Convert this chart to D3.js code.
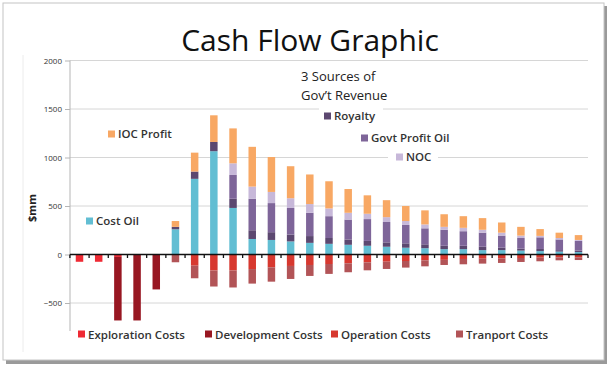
<!DOCTYPE html>
<html>
<head>
<meta charset="utf-8">
<script src="https://cdn.jsdelivr.net/npm/d3@7"></script>
<style>
  body { margin: 0; background: #fff; }
  svg text { font-family: "Open Sans", "Noto Sans", sans-serif; }
</style>
</head>
<body>
<svg id="chart" width="610" height="371"></svg>
<script>
// ---- data ($mm per year) ----
var years = d3.range(1, 28);
var costOil    = [0,0,0,0,0,260,780,1065,480,160,150,135,120,110,100,90,80,70,65,55,55,45,45,40,35,30,25];
var royalty    = [0,0,0,0,0,25,75,95,95,90,80,70,70,60,55,50,45,45,40,35,35,35,25,20,22,15,15];
var govtProfit = [0,0,0,0,0,0,0,0,245,325,300,275,240,225,205,225,210,190,165,165,150,145,125,110,120,110,100];
var noc        = [0,0,0,0,0,0,0,0,120,125,115,100,90,80,70,55,50,40,40,30,35,30,30,25,15,15,10];
var iocProfit  = [0,0,0,0,0,60,195,275,360,410,360,330,305,280,245,190,175,155,145,130,120,120,105,90,70,55,50];
var exploration = [-75,-75,-25,0,0,0,0,0,0,0,0,0,0,0,0,0,0,0,0,0,0,0,0,0,0,0,0];
var development = [0,0,-655,-680,-360,0,0,0,0,0,0,0,0,0,0,0,0,0,0,0,0,0,0,0,0,0,0];
var operation   = [0,0,0,0,0,0,-115,-165,-165,-150,-132,-118,-108,-98,-91,-81,-74,-67,-60,-55,-46,-43,-40,-36,-33,-29,-29];
var transport   = [0,0,0,0,0,-80,-130,-165,-175,-150,-148,-134,-113,-102,-92,-82,-75,-68,-62,-53,-55,-51,-47,-41,-37,-31,-28];
var yTicks = [-500, 0, 500, 1000, 1500, 2000];

var seriesKeys = ["costOil","royalty","govtProfit","noc","iocProfit","exploration","development","operation","transport"];
var seriesNames = {
    costOil: "Cost Oil", royalty: "Royalty", govtProfit: "Govt Profit Oil", noc: "NOC", iocProfit: "IOC Profit",
    exploration: "Exploration Costs", development: "Development Costs", operation: "Operation Costs", transport: "Tranport Costs"
};
var colors = {
    costOil: "#62bed3", royalty: "#5c4870", govtProfit: "#7e6599", noc: "#c7b8d9", iocProfit: "#f8a864",
    exploration: "#ef2a34", development: "#981722", operation: "#d7382f", transport: "#b25457"
};

// build table rows for the stack
var table = years.map(function(y, i) {
    return {
        year: y, costOil: costOil[i], royalty: royalty[i], govtProfit: govtProfit[i], noc: noc[i],
        iocProfit: iocProfit[i], exploration: exploration[i], development: development[i],
        operation: operation[i], transport: transport[i]
    };
});

var svg = d3.select("#chart");

// frame around the chart (screenshot border + shadow)
svg.append("rect").attr("x", 6).attr("y", 6).attr("width", 601).attr("height", 358)
    .attr("fill", "#9a9a9a");
svg.append("rect").attr("x", 3).attr("y", 3).attr("width", 601).attr("height", 357)
    .attr("fill", "#fff").attr("stroke", "#c4c4c4").attr("stroke-width", 1);
svg.append("line").attr("x1", 23).attr("x2", 23).attr("y1", 55).attr("y2", 352)
    .attr("stroke", "#ececec");

var margin = {left: 70, right: 588, top: 60.5};
var x = d3.scaleBand().domain(years).range([margin.left, margin.right]).paddingInner(0.61).paddingOuter(0.3);
var y = d3.scaleLinear().domain([-700, 2000]).range([322.4, margin.top]);

// gridlines
svg.append("g").selectAll("line").data(yTicks.filter(function(d){ return d !== 0; }))
    .enter().append("line")
    .attr("x1", margin.left).attr("x2", margin.right)
    .attr("y1", function(d){ return y(d); }).attr("y2", function(d){ return y(d); })
    .attr("stroke", "#d6d6d6").attr("stroke-width", 1);

// y axis
var yAxis = d3.axisLeft(y).tickValues(yTicks).tickFormat(d3.format("d")).tickSize(5).tickPadding(3);
var gy = svg.append("g").attr("transform", "translate(" + margin.left + ",0)").call(yAxis);
gy.select(".domain").remove();
gy.selectAll(".tick line").attr("stroke", "#b5b5b5");
gy.selectAll(".tick text").attr("fill", "#333").style("font-size", "8px");
svg.append("line").attr("x1", margin.left).attr("x2", margin.left).attr("y1", y(2000)).attr("y2", 331)
    .attr("stroke", "#b5b5b5");

svg.append("text").attr("transform", "translate(36,208) rotate(-90)")
    .attr("text-anchor", "middle").style("font-size", "11px").style("font-weight", "bold")
    .attr("fill", "#222").text("$mm");

// stacked bars
var stack = d3.stack().keys(seriesKeys).offset(d3.stackOffsetDiverging);
var layers = stack(table);

svg.append("g").selectAll("g").data(layers).enter().append("g")
    .attr("fill", function(d){ return colors[d.key]; })
    .selectAll("rect").data(function(d){ return d; }).enter().append("rect")
    .attr("x", function(d){ return x(d.data.year); })
    .attr("width", x.bandwidth())
    .attr("y", function(d){ return y(Math.max(d[0], d[1])); })
    .attr("height", function(d){ return Math.abs(y(d[0]) - y(d[1])); });

// zero axis with ticks at band edges
var edges = years.map(function(d){ return x(d) - x.step() * x.paddingInner() / 2; });
edges.push(margin.right);
svg.append("g").selectAll("line").data(edges).enter().append("line")
    .attr("x1", function(d){ return d; }).attr("x2", function(d){ return d; })
    .attr("y1", y(0)).attr("y2", y(0) + 3.5)
    .attr("stroke", "#111").attr("stroke-width", 1.3);
svg.append("line").attr("x1", margin.left).attr("x2", margin.right)
    .attr("y1", y(0)).attr("y2", y(0)).attr("stroke", "#111").attr("stroke-width", 1.6);

// title
svg.append("text").attr("x", 310).attr("y", 51).attr("text-anchor", "middle")
    .style("font-size", "30px").attr("fill", "#111").text("Cash Flow Graphic");

// "3 Sources" note
var note = svg.append("g");
note.append("rect").attr("x", 319).attr("y", 66).attr("width", 64).attr("height", 46).attr("fill", "#fff");
note.append("text").attr("x", 301).attr("y", 81).style("font-size", "13px").attr("fill", "#222").text("3 Sources of");
note.append("text").attr("x", 301).attr("y", 100).style("font-size", "13px").attr("fill", "#222").text("Gov\u2019t Revenue");

// in-plot legend items
var innerLegend = [
    {key: "iocProfit", x: 108, y: 134, box: [100, 123, 78, 20]},
    {key: "costOil", x: 86, y: 221, box: [82, 209, 65, 24]},
    {key: "royalty", x: 324, y: 116, box: null},
    {key: "govtProfit", x: 361, y: 138, box: null},
    {key: "noc", x: 396, y: 157, box: [388, 150, 50, 14]}
];
var il = svg.append("g").selectAll("g").data(innerLegend).enter().append("g");
il.filter(function(d){ return d.box; }).append("rect")
    .attr("x", function(d){ return d.box[0]; }).attr("y", function(d){ return d.box[1]; })
    .attr("width", function(d){ return d.box[2]; }).attr("height", function(d){ return d.box[3]; })
    .attr("fill", "#fff");
il.append("rect").attr("x", function(d){ return d.x; }).attr("y", function(d){ return d.y - 3.5; })
    .attr("width", 7).attr("height", 7).attr("fill", function(d){ return colors[d.key]; });
il.append("text").attr("x", function(d){ return d.x + 10; }).attr("y", function(d){ return d.y + 4; })
    .style("font-size", "11.5px").style("font-weight", "600").attr("fill", "#333")
    .text(function(d){ return seriesNames[d.key]; });

// bottom legend
var bottomLegend = [
    {key: "exploration", x: 78},
    {key: "development", x: 205},
    {key: "operation", x: 331},
    {key: "transport", x: 456}
];
var bl = svg.append("g").selectAll("g").data(bottomLegend).enter().append("g");
bl.append("rect").attr("x", function(d){ return d.x; }).attr("y", 330.5)
    .attr("width", 7).attr("height", 7).attr("fill", function(d){ return colors[d.key]; });
bl.append("text").attr("x", function(d){ return d.x + 10; }).attr("y", 338.5)
    .style("font-size", "11.5px").style("font-weight", "600").attr("fill", "#333")
    .text(function(d){ return seriesNames[d.key]; });
</script>
</body>
</html>
